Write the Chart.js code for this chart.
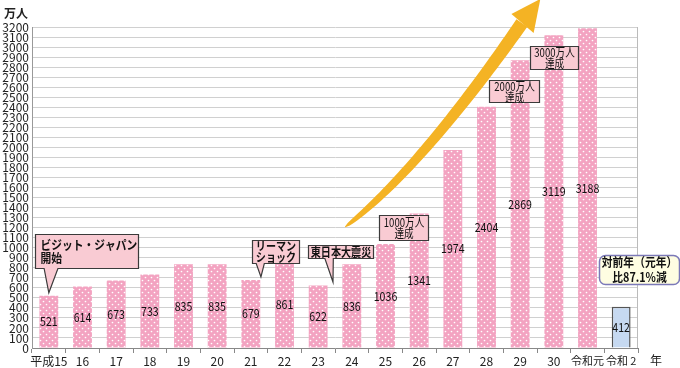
<!DOCTYPE html>
<html>
<head>
<meta charset="utf-8">
<script src="https://cdn.jsdelivr.net/npm/chart.js@4.4.0/dist/chart.umd.min.js"></script>
<style>
html, body { margin: 0; padding: 0; background: #fff; }
#wrap { width: 680px; height: 368px; }
</style>
</head>
<body>
<div id="wrap"><canvas id="visitors"></canvas></div>
<script>
// 訪日外客数の推移 (万人)
var years = ["平成15", "16", "17", "18", "19", "20", "21", "22", "23", "24",
             "25", "26", "27", "28", "29", "30", "令和元", "令和 2"];
var visitors = [521, 614, 673, 733, 835, 835, 679, 861, 622, 836,
                1036, 1341, 1974, 2404, 2869, 3119, 3188, 412];
var yMax = 3200;
var yStep = 100;

var FONT = '"Noto Sans CJK JP", "Noto Sans", sans-serif';

// callouts: box = [i1, v1, i2, v2] in category / value units, tail = [iLeft, iRight, tipI, tipV]
var callouts = [
    { lines: ["ビジット・ジャパン", "開始"], box: [-0.41, 1137, 2.65, 798], tail: [-0.14, 0.27, 0.0, 550], align: "left", bold: true, size: 12.5, lh: 13, sx: 0.86 },
    { lines: ["リーマン", "ショック"], box: [6.03, 1077, 7.43, 847], tail: [6.16, 6.4, 6.3, 708], bold: true, size: 12, lh: 11, sx: 0.84 },
    { lines: ["東日本大震災"], box: [7.7, 1027, 9.63, 897], tail: [8.2, 8.45, 8.44, 658], bold: true, size: 12, lh: 0, sx: 0.84 },
    { lines: ["1000万人", "達成"], box: [9.8, 1326, 11.26, 1077], size: 12, lh: 11, sx: 0.8 },
    { lines: ["2000万人", "達成"], box: [13.07, 2672, 14.56, 2453], size: 12, lh: 11, sx: 0.8 },
    { lines: ["3000万人", "達成"], box: [14.29, 3011, 15.72, 2782], size: 12, lh: 11, sx: 0.8 },
    { lines: ["対前年（元年）", "比87.1%減"], box: [16.34, 927, 18.72, 638], round: true, bold: true, size: 12.5, lh: 15, sx: 0.86 }
];

function dotPattern() {
    var c = document.createElement("canvas");
    c.width = 6; c.height = 6;
    var g = c.getContext("2d");
    g.fillStyle = "#f3a3c1";
    g.fillRect(0, 0, 6, 6);
    g.fillStyle = "#ffffff";
    g.beginPath(); g.arc(1.5, 1.5, 0.85, 0, Math.PI * 2); g.fill();
    g.beginPath(); g.arc(4.5, 4.5, 0.85, 0, Math.PI * 2); g.fill();
    return g.createPattern(c, "repeat");
}

function narrowText(ctx, text, x, y, align, sx) {
    var w = ctx.measureText(text).width * sx;
    var left = align === "left" ? x : x - w / 2;
    ctx.save();
    ctx.translate(left, y);
    ctx.scale(sx, 1);
    ctx.textAlign = "left";
    ctx.fillText(text, 0, 0);
    ctx.restore();
}

var pattern = dotPattern();
var fills = visitors.map(function(v, i) { return i === visitors.length - 1 ? "#c6d9f1" : pattern; });
var borders = visitors.map(function(v, i) { return i === visitors.length - 1 ? 1.5 : 0; });

var decorations = {
    id: "decorations",
    beforeDatasetsDraw: function(chart) {
        var ctx = chart.ctx, a = chart.chartArea;
        ctx.save();
        ctx.strokeStyle = "#bbbbbb";
        ctx.lineWidth = 1;
        ctx.beginPath();
        ctx.moveTo(a.right - 0.5, a.top);
        ctx.lineTo(a.right - 0.5, a.bottom);
        ctx.stroke();
        ctx.restore();
    },
    afterDatasetsDraw: function(chart) {
        var ctx = chart.ctx;
        var xs = chart.scales.x, ys = chart.scales.y;
        function P(i, v) { return [xs.getPixelForValue(i), ys.getPixelForValue(v)]; }

        // value labels
        var meta = chart.getDatasetMeta(0);
        ctx.save();
        ctx.font = "12.5px " + FONT;
        ctx.textBaseline = "middle";
        ctx.fillStyle = "#111";
        meta.data.forEach(function(bar, i) {
            narrowText(ctx, String(visitors[i]), bar.x, (bar.y + bar.base) / 2, "center", 0.85);
        });
        ctx.restore();

        // yellow arrow
        var p0 = P(8.8, 1206), p1 = P(10.58, 1655), p2 = P(12.72, 2592), p3 = P(14.05, 3240);
        var tip = P(14.6, 3480), c1 = P(13.74, 3330), c2 = P(14.4, 3140);
        var left = [], right = [], n = 50;
        for (var k = 0; k <= n; k++) {
            var t = k / n, u = 1 - t;
            var x = u*u*u*p0[0] + 3*u*u*t*p1[0] + 3*u*t*t*p2[0] + t*t*t*p3[0];
            var y = u*u*u*p0[1] + 3*u*u*t*p1[1] + 3*u*t*t*p2[1] + t*t*t*p3[1];
            var dx = 3*u*u*(p1[0]-p0[0]) + 6*u*t*(p2[0]-p1[0]) + 3*t*t*(p3[0]-p2[0]);
            var dy = 3*u*u*(p1[1]-p0[1]) + 6*u*t*(p2[1]-p1[1]) + 3*t*t*(p3[1]-p2[1]);
            var len = Math.sqrt(dx*dx + dy*dy);
            var hw = 0.4 + 6.2 * Math.pow(t, 0.4);
            left.push([x - dy / len * hw, y + dx / len * hw]);
            right.push([x + dy / len * hw, y - dx / len * hw]);
        }
        ctx.save();
        ctx.fillStyle = "#f4b324";
        ctx.beginPath();
        ctx.moveTo(left[0][0], left[0][1]);
        left.forEach(function(p) { ctx.lineTo(p[0], p[1]); });
        for (var r = right.length - 1; r >= 0; r--) ctx.lineTo(right[r][0], right[r][1]);
        ctx.closePath();
        ctx.fill();
        ctx.beginPath();
        ctx.moveTo(tip[0], tip[1]);
        ctx.lineTo(c1[0], c1[1]);
        ctx.lineTo(c2[0], c2[1]);
        ctx.closePath();
        ctx.fill();
        ctx.restore();

        // callouts
        callouts.forEach(function(c) {
            var a = P(c.box[0], c.box[1]), b = P(c.box[2], c.box[3]);
            var x = Math.round(a[0]) + 0.5, y = Math.round(a[1]) + 0.5;
            var w = Math.round(b[0] - a[0]), h = Math.round(b[1] - a[1]);
            ctx.save();
            ctx.beginPath();
            if (c.round) {
                ctx.roundRect(x, y, w, h, 6);
                ctx.fillStyle = "#fefde2";
                ctx.strokeStyle = "#7b79b8";
                ctx.lineWidth = 1.5;
            } else {
                ctx.moveTo(x, y);
                ctx.lineTo(x + w, y);
                ctx.lineTo(x + w, y + h);
                if (c.tail) {
                    var tp = P(c.tail[2], c.tail[3]);
                    ctx.lineTo(P(c.tail[1], 0)[0], y + h);
                    ctx.lineTo(tp[0], tp[1]);
                    ctx.lineTo(P(c.tail[0], 0)[0], y + h);
                }
                ctx.lineTo(x, y + h);
                ctx.closePath();
                ctx.fillStyle = "#f9cbd3";
                ctx.strokeStyle = "#3a3a3a";
                ctx.lineWidth = 1.2;
            }
            ctx.fill();
            ctx.stroke();
            ctx.fillStyle = "#111";
            ctx.font = (c.bold ? "bold " : "") + c.size + "px " + FONT;
            ctx.textBaseline = "middle";
            var cy = y + h / 2 - c.lh * (c.lines.length - 1) / 2;
            c.lines.forEach(function(line, li) {
                if (c.align === "left") narrowText(ctx, line, x + 5, cy + li * c.lh, "left", c.sx);
                else narrowText(ctx, line, x + w / 2, cy + li * c.lh, "center", c.sx);
            });
            ctx.restore();
        });
    },
    afterDraw: function(chart) {
        var ctx = chart.ctx, a = chart.chartArea;
        ctx.save();
        ctx.fillStyle = "#222";
        ctx.font = "bold 12px " + FONT;
        ctx.textBaseline = "middle";
        ctx.textAlign = "left";
        ctx.fillText("万人", 4, 13);
        ctx.font = "12px " + FONT;
        ctx.fillText("年", a.right + 12, a.bottom + 12);
        ctx.restore();
    }
};

new Chart(document.getElementById("visitors").getContext("2d"), {
    type: "bar",
    data: {
        labels: years,
        datasets: [{
            data: visitors,
            backgroundColor: fills,
            borderColor: "#555555",
            borderWidth: borders,
            borderSkipped: "bottom",
            categoryPercentage: 1,
            barPercentage: 0.56
        }]
    },
    options: {
        responsive: true,
        maintainAspectRatio: false,
        animation: false,
        layout: { padding: { top: 27, right: 42, bottom: 0, left: 0 } },
        plugins: { legend: { display: false }, tooltip: { enabled: false } },
        scales: {
            x: {
                grid: { offset: true, drawOnChartArea: false, tickLength: 5, color: "#888" },
                border: { color: "#888" },
                ticks: {
                    font: function(c) { return { size: c.index >= 16 ? 11 : 12, family: FONT }; },
                    color: "#222", padding: 1, maxRotation: 0, autoSkip: false
                },
                afterFit: function(s) { s.height = 20; }
            },
            y: {
                min: 0,
                max: yMax,
                ticks: {
                    stepSize: yStep, autoSkip: false, font: { size: 12, family: FONT }, color: "#222", padding: 3,
                    callback: function(v) { return String(v); }
                },
                grid: { color: "#d0d0d0", drawTicks: false },
                border: { color: "#999" },
                afterFit: function(s) { s.width = 32; }
            }
        }
    },
    plugins: [decorations]
});
</script>
</body>
</html>
